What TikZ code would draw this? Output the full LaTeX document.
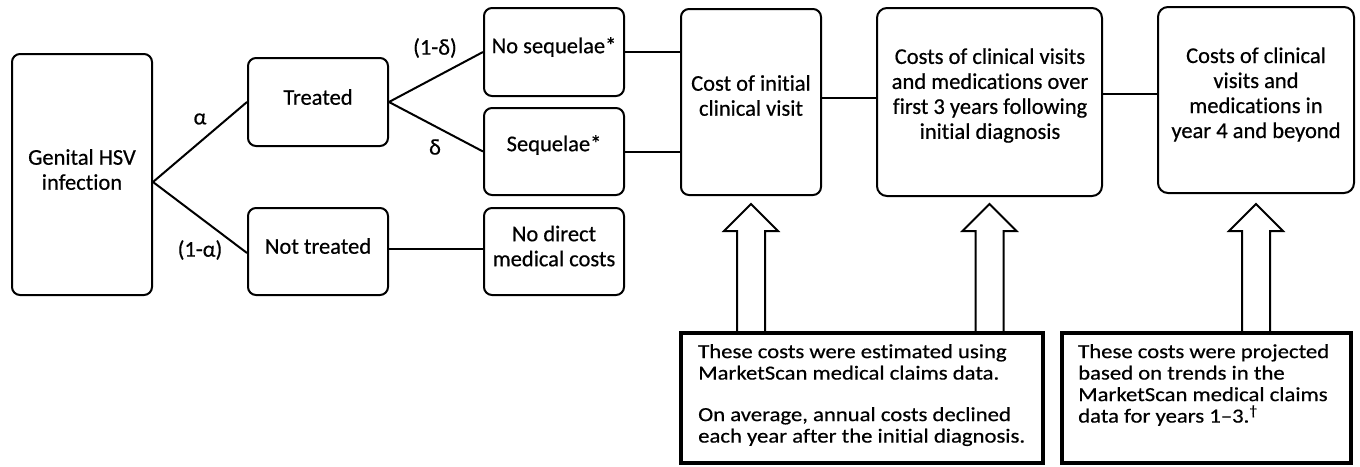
\documentclass[tikz,border=0pt]{standalone}
\usepackage{fontspec}
\setmainfont{Carlito}[Ligatures=NoCommon,FakeBold=0.5]
\newfontfamily\widefont{Carlito}[Ligatures=NoCommon,FakeStretch=1.135,FakeBold=0.5]
\usetikzlibrary{calc}
\begin{document}
\begin{tikzpicture}[x=1pt,y=-1pt,
  box/.style={draw,line width=2pt,rounded corners=8pt,inner sep=0pt},
  nbox/.style={draw,line width=4pt,inner sep=0pt},
  txt/.style={align=center,font=\fontsize{22.5}{25}\selectfont,inner sep=0pt},
  ntxt/.style={align=left,font=\widefont\fontsize{20}{21.5}\selectfont,inner sep=0pt,anchor=north west},
  conn/.style={line width=2pt},
  lbl/.style={font=\fontsize{22.5}{25}\selectfont,inner sep=0pt},
  barrow/.style={draw,line width=2pt,fill=white,line join=miter}
]
\useasboundingbox (0,0) rectangle (1360,466);
\fill[white] (0,0) rectangle (1360,466);

% boxes
\node[box,minimum width=140pt,minimum height=241pt] (g) at (82,174.5) {};
\node[box,minimum width=140pt,minimum height=88pt] (t) at (318,102) {};
\node[box,minimum width=140pt,minimum height=87pt] (nt) at (318,251.5) {};
\node[box,minimum width=140pt,minimum height=88pt] (ns) at (554,52) {};
\node[box,minimum width=140pt,minimum height=87pt] (s) at (554,151.5) {};
\node[box,minimum width=140pt,minimum height=87pt] (nd) at (554,251.5) {};
\node[box,minimum width=140pt,minimum height=186pt] (c1) at (751,102) {};
\node[box,minimum width=225pt,minimum height=188pt,rounded corners=10pt] (c2) at (989.5,102) {};
\node[box,minimum width=196pt,minimum height=186pt,rounded corners=10pt] (c3) at (1256,100) {};
\node[nbox,minimum width=362pt,minimum height=130pt] (bA) at (862,398) {};
\node[nbox,minimum width=289pt,minimum height=130pt] (bB) at (1206.5,398) {};

% box texts
\node[txt] (gt) at (82,169.5) {Genital HSV\\infection};
\node[txt] (tt) at (318,97) {Treated};
\node[txt] (ntt) at (318,246) {Not treated};
\node[txt] (nst) at (554,47) {No sequelae*};
\node[txt] (st) at (554,145) {Sequelae*};
\node[txt] (ndt) at (554,246) {No direct\\medical costs};
\node[txt] (c1t) at (751,95.5) {Cost of initial\\clinical visit};
\node[txt] (c2t) at (990,95.5) {Costs of clinical visits\\and medications over\\first 3 years following\\initial diagnosis};
\node[txt] (c3t) at (1256,94.5) {Costs of clinical\\visits and\\medications in\\year 4 and beyond};
\node[ntxt] (tA) at (698,344) {These costs were estimated using\\MarketScan medical claims data.\\[20pt]On average, annual costs declined\\each year after the initial diagnosis.};
\node[ntxt] (tB) at (1078,344) {These costs were projected\\based on trends in the\\MarketScan medical claims\\data for years 1–3.\textsuperscript{†}};

% connectors
\draw[conn] ([yshift=-7.5pt]g.east) -- (t.west);
\draw[conn] ([yshift=-7.5pt]g.east) -- ([yshift=-1.5pt]nt.west);
\draw[conn] (t.east) -- (ns.west);
\draw[conn] (t.east) -- (s.west);
\draw[conn] ([yshift=2.5pt]nt.east) -- ([yshift=2.5pt]nd.west);
\draw[conn] (ns.east) -- (ns.east -| c1.west);
\draw[conn] (s.east) -- (s.east -| c1.west);
\draw[conn] ([yshift=4pt]c1.east) -- ([yshift=4pt]c1.east -| c2.west);
\draw[conn] ([yshift=8pt]c2.east) -- ([yshift=8pt]c2.east -| c3.west);

% branch labels
\node[lbl] (la) at (200,119) {α};
\node[lbl] (lna) at (200,250) {(1-α)};
\node[lbl] (lnd) at (435,48) {(1-δ)};
\node[lbl] (ld) at (435,147) {δ};

% block arrows
\coordinate (a1) at ([yshift=-8pt]c1.south);
\coordinate (a2) at ([yshift=-7pt]c2.south);
\coordinate (a3) at ([yshift=-10pt]c3.south);
\foreach \a in {a1,a2,a3}{
  \draw[barrow] (\a) -- ++(27,27) -- ++(-13,0) -- ++(0,101) -- ++(-28,0) -- ++(0,-101) -- ++(-13,0) -- cycle;
}
\end{tikzpicture}
\end{document}
